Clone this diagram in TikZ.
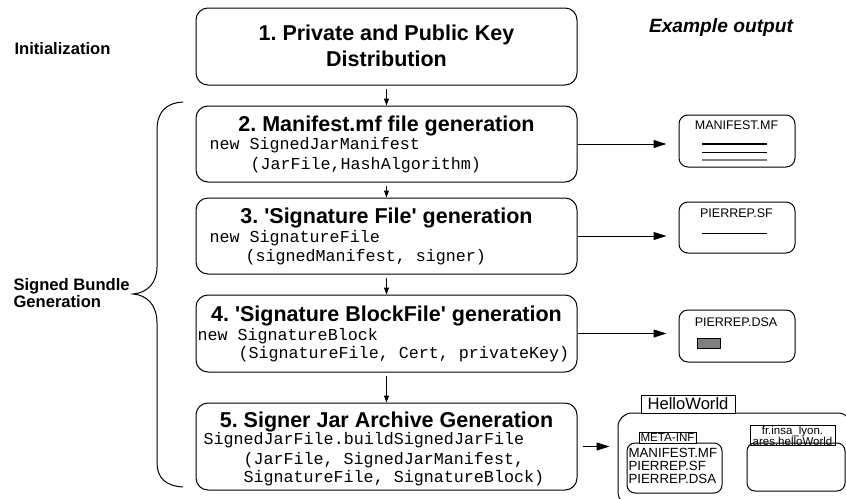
\documentclass[tikz,border=0pt]{standalone}
\usepackage{fontspec}
\setmainfont{Liberation Sans}
\setmonofont{Liberation Mono}
\usetikzlibrary{positioning,arrows.meta}
\frenchspacing

\tikzset{
  stepbox/.style={draw, rounded corners=12pt, minimum width=381pt, inner sep=0pt},
  steptitle/.style={font=\fontsize{21.5}{27}\selectfont\bfseries, anchor=base, inner sep=0pt},
  stepcode/.style={font=\fontsize{16.7}{19}\selectfont\ttfamily, anchor=base west, inner sep=0pt},
  outbox/.style={draw, rounded corners=9pt, minimum width=116pt, minimum height=52pt, inner sep=0pt},
  outlabel/.style={font=\fontsize{12.5}{14}\selectfont, inner sep=0pt},
  sidelabel/.style={font=\fontsize{16.6}{17}\selectfont\bfseries, anchor=west, align=left, inner sep=0pt},
  downarrow/.style={-{Triangle[length=7pt,width=5pt]}, shorten <=3pt},
  outarrow/.style={-{Triangle[length=13pt,width=8pt]}, shorten >=12pt},
}

\begin{document}
\begin{tikzpicture}[x=1pt, y=-1pt, line width=1pt]
  \useasboundingbox (0,0) rectangle (846,498);
  \clip (0,0) rectangle (846,498);

  % side labels
  \node[sidelabel] (initlabel) at (14,49) {Initialization};
  \node[sidelabel] (signlabel) at (13,293) {Signed Bundle\\Generation};
  \node[font=\fontsize{19.2}{20}\selectfont\bfseries\itshape, inner sep=0pt] (exlabel) at (721,28) {Example output};
  \draw (183,102) .. controls (166,103) and (157,112) .. (157,130) -- (157,267)
        .. controls (157,283) and (147,293) .. (133,294)
        .. controls (147,295) and (157,305) .. (157,323) -- (157,463)
        .. controls (157,478) and (166,486) .. (183,487);

  % step 1
  \node[stepbox, minimum height=77pt] (keys) at (386.5,46.5) {};
  \node[steptitle] (keys-t1) at (386.5,40) {1. Private and Public Key};
  \node[steptitle] (keys-t2) at (386.5,66) {Distribution};

  % step 2
  \node[stepbox, minimum height=76pt] (manifest) at (386.5,144) {};
  \node[steptitle] (manifest-t) at (386.5,131) {2. Manifest.mf file generation};
  \node[stepcode] (manifest-c1) at (209,149) {new SignedJarManifest};
  \node[stepcode] (manifest-c2) at (250,169) {(JarFile,HashAlgorithm)};

  % step 3
  \node[stepbox, minimum height=76pt] (sigfile) at (386.5,236) {};
  \node[steptitle] (sigfile-t) at (386.5,223) {3. \textquotesingle Signature File\textquotesingle\ generation};
  \node[stepcode] (sigfile-c1) at (209,242) {new SignatureFile};
  \node[stepcode] (sigfile-c2) at (245,261) {(signedManifest, signer)};

  % step 4
  \node[stepbox, minimum height=77pt] (sigblock) at (386.5,333.5) {};
  \node[steptitle] (sigblock-t) at (386.5,321) {4. \textquotesingle Signature BlockFile\textquotesingle\ generation};
  \node[stepcode] (sigblock-c1) at (197,340) {new SignatureBlock};
  \node[stepcode] (sigblock-c2) at (238,358) {(SignatureFile, Cert, privateKey)};

  % step 5
  \node[stepbox, minimum height=87pt] (jar) at (386.5,446.5) {};
  \node[steptitle] (jar-t) at (386.5,427) {5. Signer Jar Archive Generation};
  \node[stepcode] (jar-c1) at (203,444) {SignedJarFile.buildSignedJarFile};
  \node[stepcode] (jar-c2) at (243,464) {(JarFile, SignedJarManifest,};
  \node[stepcode] (jar-c3) at (243,482) {SignatureFile, SignatureBlock)};

  \draw[downarrow] (keys.south) -- (manifest.north);
  \draw[downarrow] (manifest.south) -- (sigfile.north);
  \draw[downarrow] (sigfile.south) -- (sigblock.north);
  \draw[downarrow] (sigblock.south) -- (jar.north);

  % example outputs
  \node[outbox] (mfout) at (737,141) {};
  \node[outlabel] (mfname) at (736.5,125) {MANIFEST.MF};
  \draw[line width=2pt] (702,144) -- (767,144);
  \draw (702,152) -- (767,152);
  \draw[gray, line width=1.5pt] (702,160) -- (767,160);

  \node[outbox, minimum height=51pt] (sfout) at (737,227.5) {};
  \node[outlabel] (sfname) at (736.5,213) {PIERREP.SF};
  \draw (702,233) -- (767,233);

  \node[outbox] (dsaout) at (737,336) {};
  \node[outlabel] (dsaname) at (736,322) {PIERREP.DSA};
  \draw[fill=gray] (697,338) rectangle (720,348);

  \node[draw, rounded corners=14pt, minimum width=234pt, minimum height=93pt] (jarout) at (735,459.5) {};
  \node[draw, fill=white, inner sep=0pt, minimum width=94pt, minimum height=18pt,
        font=\fontsize{16.6}{18}\selectfont] (jarname) at (688,404) {HelloWorld};
  \node[draw, rounded corners=8pt, minimum width=95pt, minimum height=50pt] (metabox) at (674.5,468) {};
  \node[draw, fill=white, inner sep=0pt, minimum width=57pt, minimum height=11pt,
        font=\fontsize{11.6}{12}\selectfont] (metaname) at (667.5,437.5) {META-INF};
  \node[font=\fontsize{13.3}{13}\selectfont, align=left, anchor=west, inner sep=0pt] (metafiles) at (628,466)
        {MANIFEST.MF\\PIERREP.SF\\PIERREP.DSA};
  \node[draw, rounded corners=8pt, minimum width=98pt, minimum height=48pt] (pkgbox) at (796,467) {};
  \node[draw, inner sep=0pt, minimum width=85pt, minimum height=19pt, align=center,
        font=\fontsize{11.5}{11}\selectfont] (pkgname) at (792.5,435.5) {fr.insa\_lyon.\\ares.helloWorld};

  \draw[outarrow] (manifest.east) -- (manifest.east -| mfout.west);
  \draw[outarrow] (sigfile.east) -- (sigfile.east -| sfout.west);
  \draw[outarrow] (sigblock.east) -- (sigblock.east -| dsaout.west);
  \draw[outarrow, shorten <=5pt, shorten >=8pt] (jar.east) -- (jar.east -| jarout.west);
\end{tikzpicture}
\end{document}
